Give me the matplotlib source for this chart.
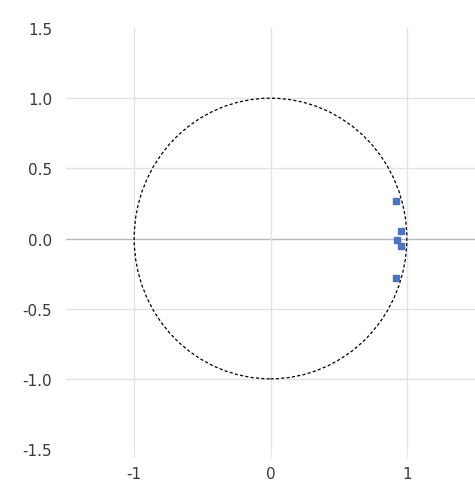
import numpy as np
import matplotlib
matplotlib.use('Agg')
import matplotlib.pyplot as plt
from matplotlib.patches import Circle

# 極の位置 (実部, 虚部)
pole_re = [0.92, 0.96, 0.93, 0.96, 0.92]
pole_im = [0.27, 0.05, -0.01, -0.05, -0.28]
x_ticks = [-1, 0, 1]
x_labels = ['-1', '0', '1']
y_ticks = [-1.5, -1.0, -0.5, 0.0, 0.5, 1.0, 1.5]
y_labels = ['-1.5', '-1.0', '-0.5', '0.0', '0.5', '1.0', '1.5']

fig = plt.figure(figsize=(4.75, 4.85), dpi=100, facecolor='w')
ax = fig.add_axes([66 / 475, 1 - 450 / 485, 1 - 66 / 475, (450 - 29) / 485])
ax.set_xlim(-1.5, 1.5)
ax.set_ylim(-1.5, 1.5)

grid_c = '#e3e3e3'
for yv in y_ticks[1:-1]:
    ax.axhline(yv, color='#b8b8b8' if yv == 0 else grid_c, lw=1.0, zorder=1)
for xv in x_ticks:
    ax.axvline(xv, color=grid_c, lw=1.0, zorder=1)

ax.add_patch(Circle((0, 0), 1.0, fill=False, ec='black', lw=0.9,
                    ls=(0, (2.5, 1.8)), zorder=2))
ax.plot(pole_re, pole_im, ls='none', marker='s', ms=4,
        mfc='#4a74c0', mec='#4a74c0', zorder=3)

for s in ax.spines.values():
    s.set_visible(False)
ax.set_xticks(x_ticks)
ax.set_xticklabels(x_labels)
ax.set_yticks(y_ticks)
ax.set_yticklabels(y_labels)
ax.tick_params(axis='x', length=6, color=grid_c, pad=6, labelsize=11,
               labelcolor='#3a3a3a')
ax.tick_params(axis='y', length=0, pad=10, labelsize=11,
               labelcolor='#3a3a3a')
fig.savefig('out.png', dpi=100, facecolor='w')
